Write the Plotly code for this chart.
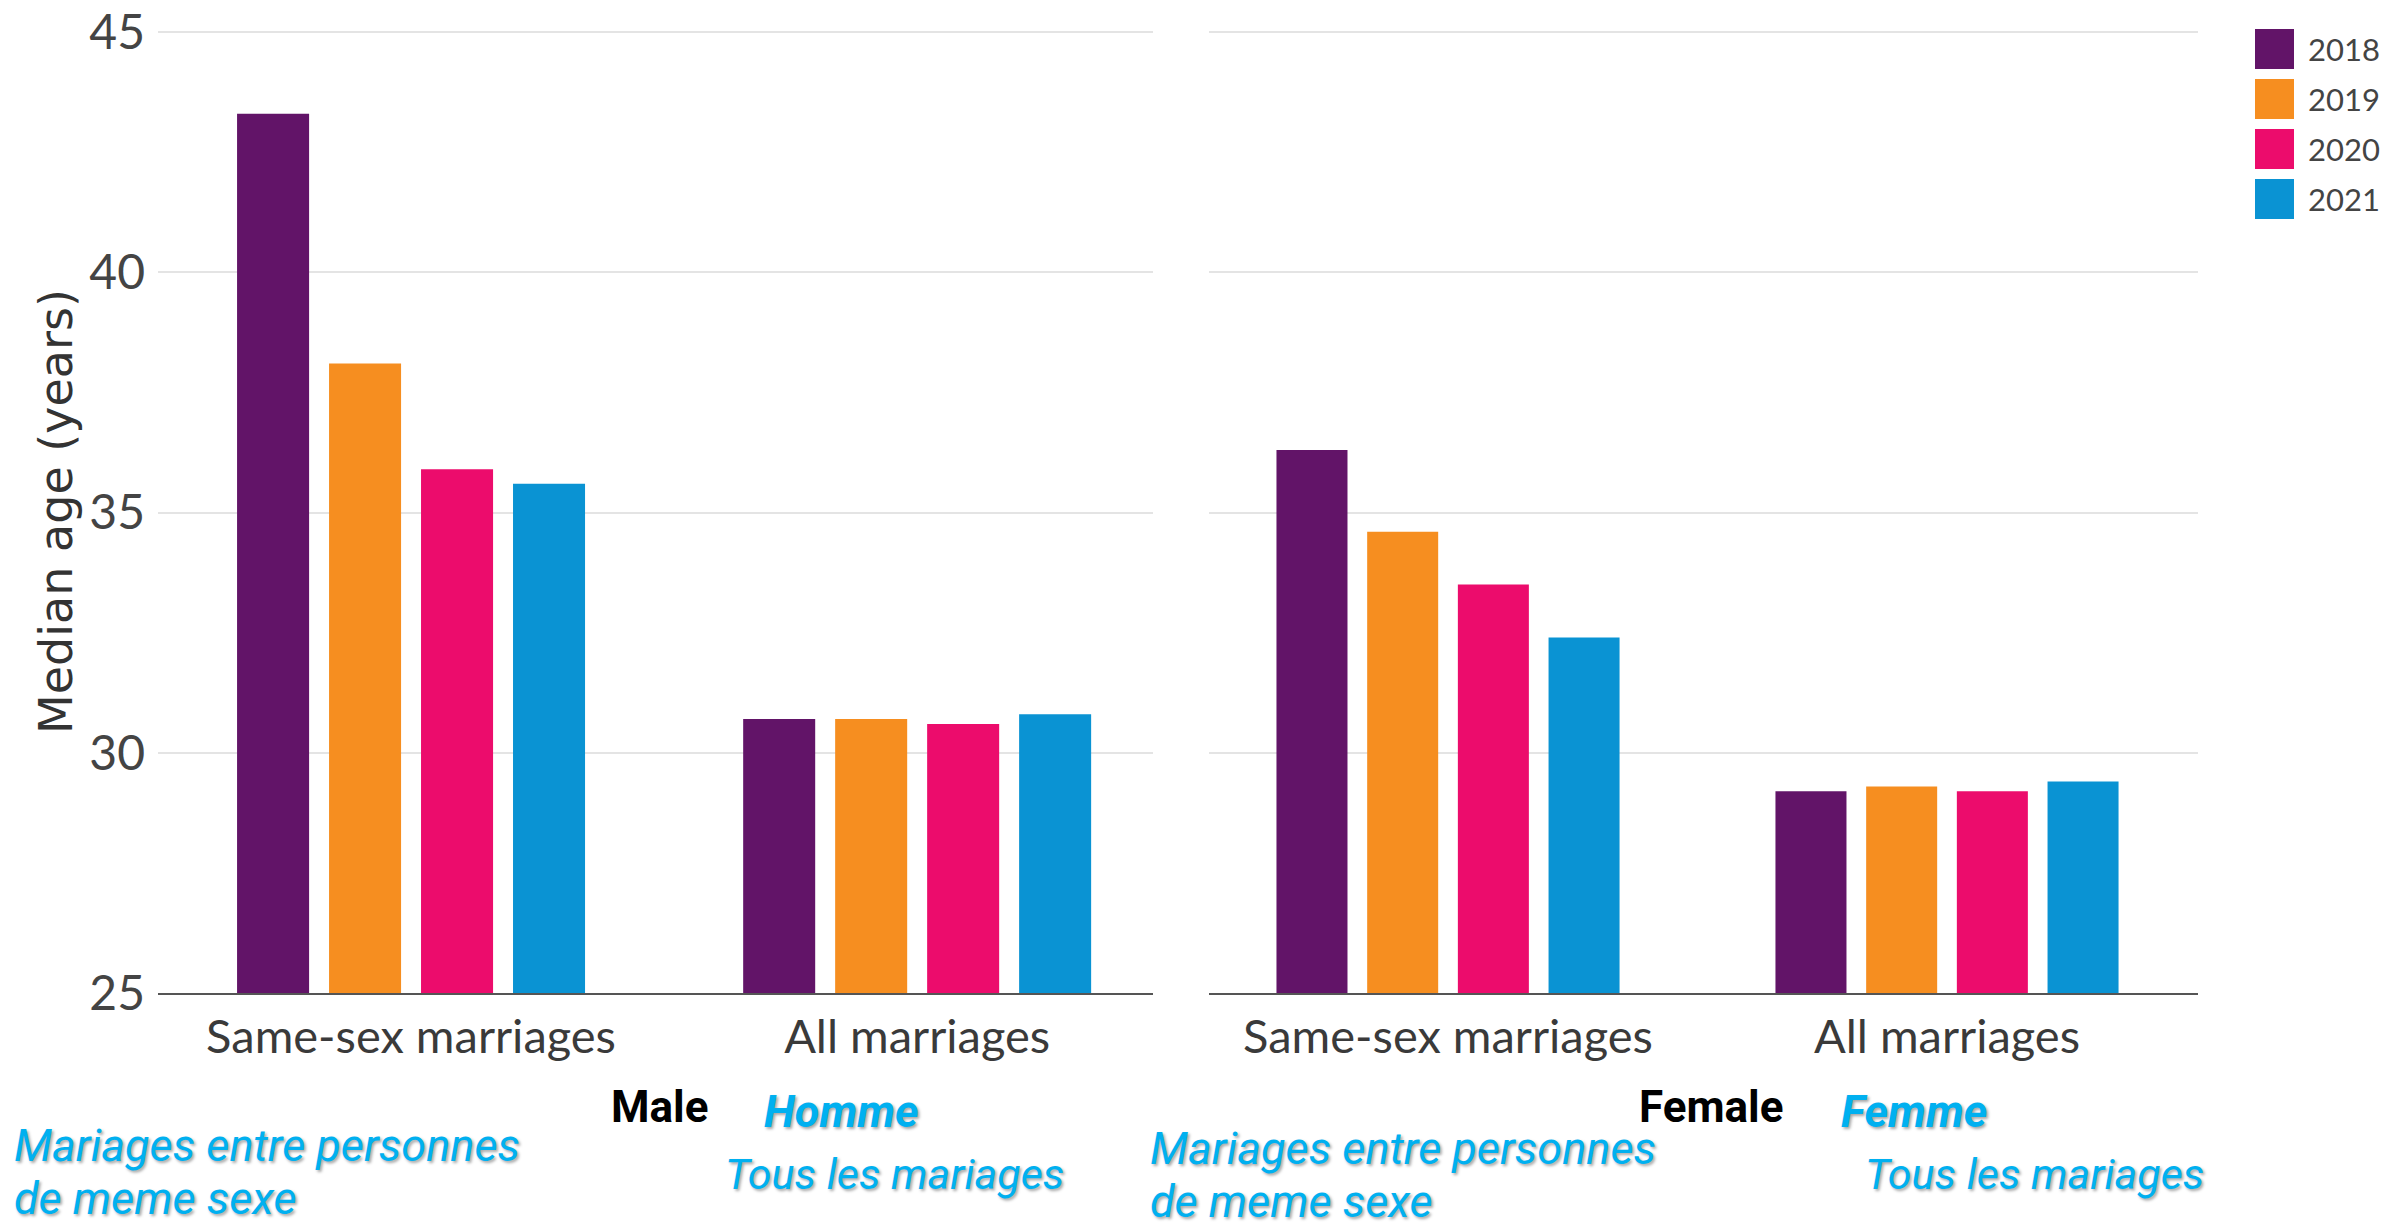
import plotly.graph_objects as go

# ---- data ----
categories = ["Same-sex marriages", "All marriages"]
years = ["2018", "2019", "2020", "2021"]
colors = ["#621468", "#F68E20", "#EC0C6C", "#0A93D3"]
male_2018 = [43.3, 30.7]
male_2019 = [38.1, 30.7]
male_2020 = [35.9, 30.6]
male_2021 = [35.6, 30.8]
female_2018 = [36.3, 29.2]
female_2019 = [34.6, 29.3]
female_2020 = [33.5, 29.2]
female_2021 = [32.4, 29.4]
y_ticks = [25, 30, 35, 40, 45]
y_title = "Median age (years)"
panel_labels = ["Male", "Female"]
panel_labels_fr = ["Homme", "Femme"]
same_sex_fr_lines = ["Mariages entre personnes", "de meme sexe"]
all_fr = "Tous les mariages"

male = [male_2018, male_2019, male_2020, male_2021]
female = [female_2018, female_2019, female_2020, female_2021]

W, H = 2387, 1229
BLUE = "#00B0F0"
SHADOW = "2px 2px 3px rgba(0,0,0,0.35)"
CHART_FONT = "Lato, 'Open Sans', sans-serif"
TITLE_FONT = "'DejaVu Sans', Lato, sans-serif"
NOTE_FONT = "Roboto, sans-serif"

fig = go.Figure()
for yr, col, mv, fv in zip(years, colors, male, female):
    fig.add_trace(go.Bar(x=categories, y=mv, name=yr, marker=dict(color=col, line=dict(width=0)),
                         xaxis="x", yaxis="y", showlegend=False))
    fig.add_trace(go.Bar(x=categories, y=fv, name=yr, marker=dict(color=col, line=dict(width=0)),
                         xaxis="x2", yaxis="y2", showlegend=False))

def px(x):
    return x / W

def py(y):
    return 1 - y / H

ydom = [py(993), py(30.1)]
axis_common = dict(showgrid=False, zeroline=False, showline=True, linecolor="#555555", linewidth=2,
                   ticks="", tickfont=dict(family=CHART_FONT, size=47, color="#3a3a3a"),
                   automargin=False, fixedrange=True, ticklabelstandoff=2)
yaxis_common = dict(range=[25, 45.04], tickvals=y_ticks, showgrid=True, gridcolor="#e4e4e4", gridwidth=2,
                    zeroline=False, showline=False, ticks="", automargin=False, domain=ydom,
                    tickfont=dict(family=CHART_FONT, size=48, color="#444444"), fixedrange=True)

fig.update_layout(
    width=W, height=H, template="none",
    paper_bgcolor="white", plot_bgcolor="white",
    margin=dict(l=0, r=0, t=0, b=0),
    barmode="group", bargap=0.273, bargroupgap=0.217,
    showlegend=False,
    xaxis=dict(domain=[px(158), px(1153)], range=[-0.5, 1.466], anchor="y", **axis_common),
    xaxis2=dict(domain=[px(1209), px(2198)], range=[-0.479, 1.503], anchor="y2", **axis_common),
    yaxis=dict(anchor="x", ticklabelstandoff=12,
               title=dict(text=y_title, font=dict(family=TITLE_FONT, size=46, color="#333333"), standoff=2),
               **yaxis_common),
    yaxis2=dict(anchor="x2", matches="y", showticklabels=False, **yaxis_common),
)

# legend (drawn from the year / colour lists)
for i, (yr, col) in enumerate(zip(years, colors)):
    yc = 49 + 50 * i
    fig.add_shape(type="rect", xref="paper", yref="paper",
                  x0=px(2255), x1=px(2294), y0=py(yc + 20), y1=py(yc - 20),
                  fillcolor=col, line=dict(width=0))
    fig.add_annotation(xref="paper", yref="paper", x=px(2306), y=py(yc), text=yr, showarrow=False,
                       xanchor="left", yanchor="middle",
                       font=dict(family=CHART_FONT, size=31, color="#444444"))

# panel labels
for lab, xc in zip(panel_labels, [659, 1711]):
    fig.add_annotation(xref="paper", yref="paper", x=px(xc), y=py(1107), text=f"<b>{lab}</b>",
                       showarrow=False, xanchor="center", yanchor="middle",
                       font=dict(family=NOTE_FONT, size=44, color="#000000"))
for lab, xl in zip(panel_labels_fr, [762, 1839]):
    fig.add_annotation(xref="paper", yref="paper", x=px(xl), y=py(1111), text=f"<b><i>{lab}</i></b>",
                       showarrow=False, xanchor="left", yanchor="middle",
                       font=dict(family=NOTE_FONT, size=45, color=BLUE, shadow=SHADOW))

# French translations of categories
for xl, yc in [(12, 1145), (1148, 1148)]:
    for k, line in enumerate(same_sex_fr_lines):
        fig.add_annotation(xref="paper", yref="paper", x=px(xl), y=py(yc + 53 * k), text=f"<i>{line}</i>",
                           showarrow=False, xanchor="left", yanchor="middle", align="left",
                           font=dict(family=NOTE_FONT, size=45, color=BLUE, shadow=SHADOW))
for xl in [723, 1863]:
    fig.add_annotation(xref="paper", yref="paper", x=px(xl), y=py(1174), text=f"<i>{all_fr}</i>",
                       showarrow=False, xanchor="left", yanchor="middle",
                       font=dict(family=NOTE_FONT, size=43, color=BLUE, shadow=SHADOW))

fig.write_html("out.html", config={"displayModeBar": False},
               post_script="document.body.style.margin='0';")
